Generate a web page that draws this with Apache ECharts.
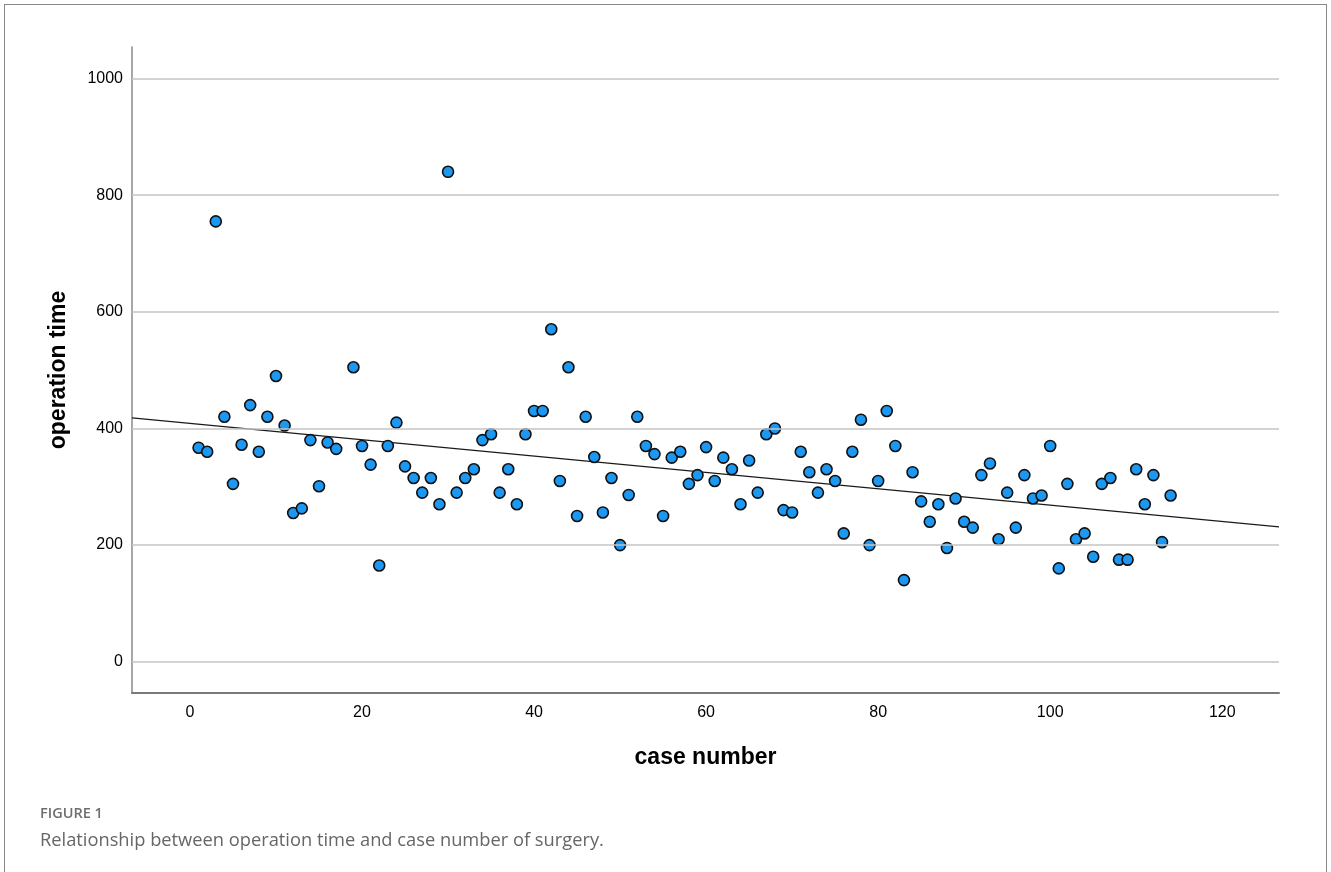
<!DOCTYPE html>
<html>
<head>
<meta charset="utf-8">
<script src="https://cdn.jsdelivr.net/npm/echarts@6/dist/echarts.min.js"></script>
<style>
  html, body { margin: 0; padding: 0; background: #fff; }
  #frame { position: absolute; left: 4px; top: 4px; width: 1323px; height: 900px; border: 1px solid #8a8a8a; box-sizing: border-box; }
  #chart { position: absolute; left: 0; top: 0; width: 1331px; height: 872px; }
</style>
</head>
<body>
<div id="frame"></div>
<div id="chart"></div>
<script>
// ---- data ----
const caseNumber = [
  1, 2, 3, 4, 5, 6, 7, 8, 9, 10, 11, 12, 13, 14, 15, 16, 17,
  19, 20, 21, 22, 23, 24, 25, 26, 27, 28, 29, 30, 31, 32, 33, 34, 35, 36, 37, 38, 39, 40,
  41, 42, 43, 44, 45, 46, 47, 48, 49, 50, 51, 52, 53, 54, 55, 56, 57, 58, 59, 60,
  61, 62, 63, 64, 65, 66, 67, 68, 69, 70, 71, 72, 73, 74, 75, 76, 77, 78, 79, 80,
  81, 82, 83, 84, 85, 86, 87, 88, 89, 90, 91, 92, 93, 94, 95, 96, 97, 98, 99, 100,
  101, 102, 103, 104, 105, 106, 107, 108, 109, 110, 111, 112, 113, 114
];
const operationTime = [
  367, 360, 755, 420, 305, 372, 440, 360, 420, 490, 405, 255, 263, 380, 301, 376, 365,
  505, 370, 338, 165, 370, 410, 335, 315, 290, 315, 270, 840, 290, 315, 330, 380, 390, 290, 330, 270, 390, 430,
  430, 570, 310, 505, 250, 420, 351, 256, 315, 200, 286, 420, 370, 356, 250, 350, 360, 305, 320, 368,
  310, 350, 330, 270, 345, 290, 390, 400, 260, 256, 360, 325, 290, 330, 310, 220, 360, 415, 200, 310,
  430, 370, 140, 325, 275, 240, 270, 195, 280, 240, 230, 320, 340, 210, 290, 230, 320, 280, 285, 370,
  160, 305, 210, 220, 180, 305, 315, 175, 175, 330, 270, 320, 205, 285
];
// fitted linear trend
const fitIntercept = 408.7;
const fitSlope = -1.403;
// axis ranges and tick labels
const xRange = [-6.74, 126.6];
const yRange = [-53.6, 1054];
const xTickLabels = [0, 20, 40, 60, 80, 100, 120];
const yTickLabels = [0, 200, 400, 600, 800, 1000];
const xTitle = 'case number';
const yTitle = 'operation time';
const figLabel = 'FIGURE 1';
const figCaption = 'Relationship between operation time and case number of surgery.';

const points = caseNumber.map((c, i) => [c, operationTime[i]]);
const fitLine = [
  [xRange[0], fitIntercept + fitSlope * xRange[0]],
  [xRange[1], fitIntercept + fitSlope * xRange[1]]
];

const chart = echarts.init(document.getElementById('chart'), null, { renderer: 'canvas' });
const FONT = 'Liberation Sans';

chart.setOption({
  animation: false,
  backgroundColor: 'transparent',
  grid: { left: 132, right: 52, top: 47, bottom: 179, containLabel: false },
  xAxis: {
    type: 'value',
    min: xRange[0], max: xRange[1],
    name: xTitle,
    nameLocation: 'middle',
    nameGap: 53,
    nameTextStyle: { fontFamily: FONT, fontSize: 23, fontWeight: 'bold', color: '#000' },
    axisLine: { show: true, onZero: false, lineStyle: { color: '#7a7a7a', width: 2 } },
    axisTick: { show: false },
    splitLine: { show: false },
    axisLabel: {
      customValues: xTickLabels,
      formatter: v => String(v),
      margin: 12,
      fontFamily: FONT, fontSize: 16, color: '#000'
    }
  },
  yAxis: {
    type: 'value',
    min: yRange[0], max: yRange[1],
    name: yTitle,
    nameLocation: 'middle',
    nameGap: 62,
    nameTextStyle: { fontFamily: FONT, fontSize: 23, fontWeight: 'bold', color: '#000' },
    axisLine: { show: true, onZero: false, lineStyle: { color: '#8a8a8a', width: 1.5 } },
    axisTick: { show: false },
    splitLine: { show: false },
    axisLabel: {
      customValues: yTickLabels,
      formatter: v => String(v),
      margin: 9,
      fontFamily: FONT, fontSize: 16, color: '#000'
    }
  },
  series: [
    {
      type: 'scatter',
      name: 'gridlines',
      data: [],
      silent: true,
      markLine: {
        silent: true,
        symbol: ['none', 'none'],
        label: { show: false },
        lineStyle: { color: '#c4c4c4', width: 1.5, type: 'solid' },
        emphasis: { disabled: true },
        data: yTickLabels.map(v => ({ yAxis: v }))
      },
      z: 1
    },
    {
      type: 'line',
      name: 'fit',
      data: fitLine,
      showSymbol: false,
      symbol: 'none',
      lineStyle: { color: '#1a1a1a', width: 1.3 },
      z: 2
    },
    {
      type: 'scatter',
      name: 'operation time',
      data: points,
      symbol: 'circle',
      symbolSize: 11,
      itemStyle: { color: '#1c98f2', borderColor: '#111', borderWidth: 1.6, opacity: 1 },
      z: 3
    }
  ],
  graphic: [
    {
      type: 'text', left: 40, top: 806,
      style: { text: figLabel, font: '600 14.5px "Open Sans", sans-serif', fill: '#6e6e6e' }
    },
    {
      type: 'text', left: 40, top: 832,
      style: { text: figCaption, font: '18.3px "Open Sans", sans-serif', fill: '#666' }
    }
  ]
});
</script>
</body>
</html>
